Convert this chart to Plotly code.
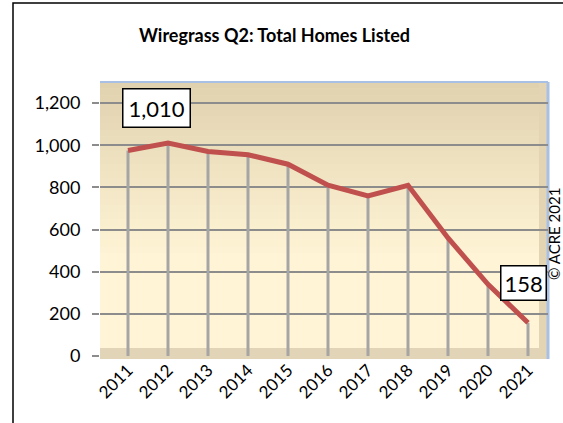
import plotly.graph_objects as go

years = ["2011", "2012", "2013", "2014", "2015", "2016", "2017", "2018", "2019", "2020", "2021"]
homes = [975, 1010, 970, 955, 910, 810, 760, 810, 560, 340, 158]
y_ticks = [0, 200, 400, 600, 800, 1000, 1200]
y_tick_labels = ["0", "200", "400", "600", "800", "1,000", "1,200"]
title_text = "Wiregrass Q2: Total Homes Listed"
credit_text = "© ACRE 2021"

xi = list(range(len(years)))

# plot-area geometry (pixels)
W, H = 563, 423
L, R, T, B = 100, 548, 82, 356

fig = go.Figure()

# drop lines from 0 to each point
dx, dy = [], []
for i, v in zip(xi, homes):
    dx += [i, i, None]
    dy += [0, v, None]
fig.add_trace(go.Scatter(x=dx, y=dy, mode="lines",
                         line=dict(color="#a5a5a5", width=3),
                         hoverinfo="skip", showlegend=False))

fig.add_trace(go.Scatter(x=xi, y=homes, mode="lines",
                         line=dict(color="#c0504d", width=5),
                         showlegend=False))

shapes = []
# gradient wall background
top_c = (0xe0, 0xd1, 0xae)
mid_c = (0xff, 0xf5, 0xd6)
n = 40
for k in range(n):
    y0 = k / n
    y1 = (k + 1) / n
    t = min(1.0, max(0.0, (y0 - 0.35) / 0.65))
    c = tuple(int(mid_c[j] + (top_c[j] - mid_c[j]) * t) for j in range(3))
    shapes.append(dict(type="rect", xref="paper", yref="paper", x0=0, x1=1, y0=y0, y1=y1 + 0.002,
                       fillcolor="rgb(%d,%d,%d)" % c, line=dict(width=0), layer="below"))
# floor band
shapes.append(dict(type="rect", xref="paper", yref="paper", x0=0, x1=1,
                   y0=-3 / (B - T), y1=8 / (B - T),
                   fillcolor="#e2d4b6", line=dict(width=0), layer="below"))
# right side wall band
shapes.append(dict(type="rect", xref="paper", yref="paper", x0=1 - 9 / (R - L), x1=1,
                   y0=0, y1=1, fillcolor="#e3d5b4", line=dict(width=0), layer="below"))
# light blue edges (top, right)
shapes.append(dict(type="line", xref="paper", yref="paper", x0=0, x1=1, y0=1, y1=1,
                   line=dict(color="#a8c0e4", width=2), layer="below"))
shapes.append(dict(type="line", xref="paper", yref="paper", x0=1, x1=1, y0=-3 / (B - T), y1=1,
                   line=dict(color="#a8c0e4", width=3), layer="below"))
# outer chart border
shapes.append(dict(type="rect", xref="paper", yref="paper",
                   x0=(13 - L) / (R - L), x1=(575 - L) / (R - L),
                   y0=(B - 440) / (B - T), y1=(B - 3) / (B - T),
                   line=dict(color="black", width=1.5), fillcolor="rgba(0,0,0,0)"))

annotations = [
    dict(text="<b>" + title_text + "</b>", xref="paper", yref="paper",
         x=(274 - L) / (R - L), y=(B - 35) / (B - T), showarrow=False,
         font=dict(family="Lato", size=18, color="black"), xanchor="center", yanchor="middle"),
    dict(text=credit_text, xref="paper", yref="paper",
         x=(554 - L) / (R - L), y=(B - 234) / (B - T), showarrow=False, textangle=-90,
         font=dict(family="Lato", size=15, color="black"), xanchor="center", yanchor="middle"),
    dict(text=f"{homes[1]:,}", xref="paper", yref="paper",
         x=(156 - L) / (R - L), y=(B - 108) / (B - T), showarrow=False,
         font=dict(family="Lato", size=22, color="black"),
         bgcolor="white", bordercolor="black", borderwidth=1.5, borderpad=5,
         xanchor="center", yanchor="middle"),
    dict(text=f"{homes[-1]:,}", xref="paper", yref="paper",
         x=(523 - L) / (R - L), y=(B - 283) / (B - T), showarrow=False,
         font=dict(family="Lato", size=22, color="black"),
         bgcolor="white", bordercolor="black", borderwidth=1.5, borderpad=3,
         xanchor="center", yanchor="middle"),
]

fig.update_layout(
    width=W, height=H,
    margin=dict(l=L, r=W - R, t=T, b=H - B),
    paper_bgcolor="white", plot_bgcolor="#fff5d6",
    shapes=shapes, annotations=annotations,
    xaxis=dict(range=[-0.7, 10.5], tickmode="array", tickvals=xi, ticktext=years,
               tickangle=-45, showgrid=False, zeroline=False, showline=False,
               ticks="", tickfont=dict(family="Lato", size=17, color="black")),
    yaxis=dict(range=[0, 1300], tickmode="array", tickvals=y_ticks, ticktext=y_tick_labels,
               showgrid=True, gridcolor="#8c8c8c", gridwidth=2, zeroline=False,
               showline=False, ticks="outside", ticklen=7, tickcolor="#8c8c8c", tickwidth=2,
               ticklabelstandoff=8,
               tickfont=dict(family="Lato", size=18, color="black")),
)

fig.write_html("out.html", config={"displayModeBar": False},
               post_script="document.body.style.margin='0';document.body.style.overflow='hidden';")
